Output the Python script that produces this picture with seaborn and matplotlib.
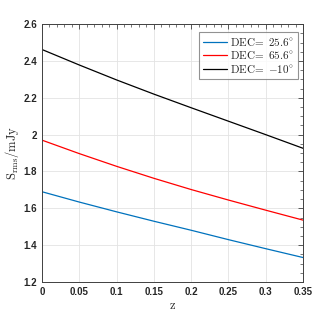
import numpy as np
import pandas as pd
import matplotlib
matplotlib.use("Agg")
import matplotlib.pyplot as plt
import seaborn as sns
from matplotlib.ticker import MultipleLocator, FuncFormatter

# values
z = [0.0, 0.05, 0.10, 0.15, 0.20, 0.25, 0.30, 0.35]
s_dec_256 = [1.690, 1.634, 1.581, 1.530, 1.481, 1.430, 1.381, 1.333]
s_dec_656 = [1.970, 1.897, 1.828, 1.763, 1.702, 1.645, 1.590, 1.536]
s_dec_m10 = [2.462, 2.378, 2.297, 2.220, 2.146, 2.073, 2.000, 1.926]
labels = [r"$\mathrm{DEC}\!=\ 25.6^{\circ}$",
          r"$\mathrm{DEC}\!=\ 65.6^{\circ}$",
          r"$\mathrm{DEC}\!=\ {-10}^{\circ}$"]
colors = ["#0072BD", "#FF0000", "#000000"]

df = pd.concat([
    pd.DataFrame({"z": z, "S": s, "series": lab})
    for s, lab in zip([s_dec_256, s_dec_656, s_dec_m10], labels)
])

sns.set_style("white")
plt.rcParams["mathtext.fontset"] = "cm"
plt.rcParams["font.family"] = ["Liberation Sans", "DejaVu Sans"]

fig = plt.figure(figsize=(3.35, 3.13), dpi=100)
ax = fig.add_axes([0.1254, 0.099, 0.779, 0.824])

sns.lineplot(data=df, x="z", y="S", hue="series", palette=dict(zip(labels, colors)),
             linewidth=0.9, ax=ax)

ax.set_xlim(0, 0.35)
ax.set_ylim(1.2, 2.6)
ax.xaxis.set_major_locator(MultipleLocator(0.05))
ax.xaxis.set_minor_locator(MultipleLocator(0.01))
ax.yaxis.set_major_locator(MultipleLocator(0.2))
ax.yaxis.set_minor_locator(MultipleLocator(0.05))
# matlab style tick labels: 0, 0.05, 2 (no trailing zeros)
fmt = FuncFormatter(lambda v, p: ("%.2f" % v).rstrip("0").rstrip(".") if abs(v) > 1e-9 else "0")
ax.xaxis.set_major_formatter(fmt)
ax.yaxis.set_major_formatter(fmt)

ax.grid(True, which="major", color="#e3e3e3", linewidth=0.6)
ax.set_axisbelow(True)
for sp in ax.spines.values():
    sp.set_color("#404040")
    sp.set_linewidth(0.7)
ax.tick_params(which="both", direction="in", top=True, right=True, colors="#404040",
               labelcolor="#262626")
ax.tick_params(which="major", length=3.5, width=0.6, labelsize=7)
ax.tick_params(which="minor", length=2, width=0.5)
for t in ax.get_xticklabels() + ax.get_yticklabels():
    t.set_fontweight("bold")

ax.set_xlabel(r"$\mathrm{z}$", fontsize=9, color="#262626", labelpad=2)
ax.set_ylabel(r"$\mathrm{S_{rms}/mJy}$", fontsize=9, color="#262626", labelpad=2)

leg = ax.legend(loc="upper right", bbox_to_anchor=(0.981, 0.969), frameon=True,
                fancybox=False, edgecolor="#777777", fontsize=8, handlelength=2.2,
                borderpad=0.35, labelspacing=0.12, handletextpad=0.3, borderaxespad=0)
leg.get_frame().set_linewidth(0.8)

fig.savefig("out.png", dpi=100)
